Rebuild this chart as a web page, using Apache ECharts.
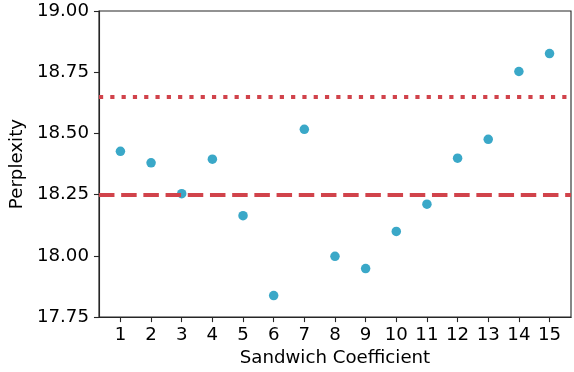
<!DOCTYPE html>
<html>
<head>
<meta charset="utf-8">
<script src="https://cdn.jsdelivr.net/npm/echarts@6/dist/echarts.min.js"></script>
<style>
  html, body { margin: 0; padding: 0; background: #ffffff; }
  #chart { width: 574px; height: 372px; }
</style>
</head>
<body>
<div id="chart"></div>
<script>
// 数据
const coefficients = [1, 2, 3, 4, 5, 6, 7, 8, 9, 10, 11, 12, 13, 14, 15];
const perplexity = [18.427, 18.38, 18.254, 18.395, 18.164, 17.838, 18.517, 17.998,
  17.948, 18.10, 18.211, 18.399, 18.476, 18.753, 18.826];
const dottedLevel = 18.65;
const dashedLevel = 18.25;
const yTicks = [17.75, 18.0, 18.25, 18.5, 18.75, 19.0];

const font = 'DejaVu Sans';
const fontSize = 18.2;
const axisColor = '#262626';

const myChart = echarts.init(document.querySelector('#chart'));

const option = {
  backgroundColor: '#ffffff',
  animation: false,
  grid: {
    left: 97,
    right: 3,
    top: 11,
    bottom: 54,
    show: true,
    borderColor: axisColor,
    borderWidth: 1.1,
    backgroundColor: 'transparent',
  },
  xAxis: {
    type: 'value',
    min: 0.3,
    max: 15.7,
    name: 'Sandwich Coefficient',
    nameLocation: 'middle',
    nameGap: 31,
    nameTextStyle: { fontFamily: font, fontSize, color: '#000000' },
    splitLine: { show: false },
    axisLine: { show: true, lineStyle: { color: axisColor, width: 1.1 } },
    axisTick: {
      show: true,
      length: 5,
      customValues: coefficients,
      lineStyle: { color: axisColor, width: 1.1 },
    },
    axisLabel: {
      customValues: coefficients,
      margin: 9,
      fontFamily: font,
      fontSize,
      color: '#000000',
    },
  },
  yAxis: {
    type: 'value',
    min: yTicks[0],
    max: yTicks[yTicks.length - 1],
    interval: 0.25,
    name: 'Perplexity',
    nameLocation: 'middle',
    nameGap: 70,
    nameTextStyle: { fontFamily: font, fontSize, color: '#000000' },
    splitLine: { show: false },
    axisLine: { show: true, lineStyle: { color: axisColor, width: 1.1 } },
    axisTick: { show: true, length: 5, lineStyle: { color: axisColor, width: 1.1 } },
    axisLabel: {
      margin: 10,
      fontFamily: font,
      fontSize,
      color: '#000000',
      formatter: v => v.toFixed(2),
    },
  },
  series: [
    {
      type: 'scatter',
      symbolSize: 9.5,
      itemStyle: { color: '#3aa8c8', opacity: 1 },
      data: coefficients.map((c, i) => [c, perplexity[i]]),
      z: 3,
      markLine: {
        silent: true,
        symbol: 'none',
        label: { show: false },
        data: [
          {
            yAxis: dottedLevel,
            lineStyle: { color: '#d1434b', width: 4.2, type: [4.2, 7.1], cap: 'butt' },
          },
          {
            yAxis: dashedLevel,
            lineStyle: { color: '#d1434b', width: 4.2, type: [15.5, 6.7], cap: 'butt' },
          },
        ],
      },
    },
  ],
};

myChart.setOption(option);
</script>
</body>
</html>
